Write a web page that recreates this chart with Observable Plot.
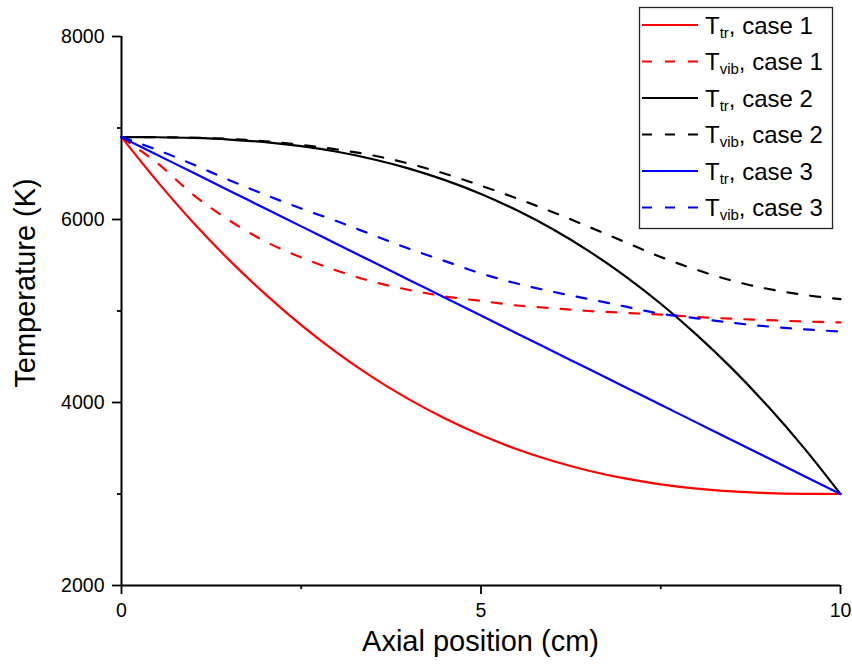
<!DOCTYPE html>
<html><head><meta charset="utf-8">
<script src="https://cdn.jsdelivr.net/npm/d3@7"></script>
<script src="https://cdn.jsdelivr.net/npm/@observablehq/plot@0.6"></script>
<style>body{margin:0;background:#fff}</style>
</head><body><div id="chart"></div>
<script>
// Axial position (cm)
const xs = [0,0.5,1,1.5,2,2.5,3,3.5,4,4.5,5,5.5,6,6.5,7,7.5,8,8.5,9,9.5,10];
// Temperatures (K)
const ttrCase1  = [6900,6414,5965,5556,5184,4846,4543,4272,4034,3825,3644,3489,3360,3254,3170,3106,3059,3028,3010,3002,3000];
const tvibCase1 = [6900,6615,6270,5990,5760,5585,5440,5320,5230,5160,5110,5060,5030,5000,4980,4960,4935,4915,4900,4885,4875];
const ttrCase2  = [6900,6899,6891,6874,6845,6801,6740,6659,6556,6430,6279,6100,5893,5655,5384,5079,4739,4365,3950,3496,3000];
const tvibCase2 = [6900,6900,6893,6880,6855,6815,6765,6700,6610,6500,6370,6230,6080,5920,5755,5590,5450,5330,5240,5175,5130];
const ttrCase3  = [6900,6705,6510,6315,6120,5925,5730,5535,5340,5145,4950,4755,4560,4365,4170,3975,3780,3585,3390,3195,3000];
const tvibCase3 = [6900,6760,6600,6430,6270,6120,5980,5830,5680,5545,5410,5300,5210,5130,5050,4970,4920,4870,4830,4800,4775];

const seriesValues = [ttrCase1, tvibCase1, ttrCase2, tvibCase2, ttrCase3, tvibCase3];
const seriesSub    = ["tr","vib","tr","vib","tr","vib"];
const seriesCase   = ["1","1","2","2","3","3"];
const seriesColor  = ["#ff0000","#ff0000","#000000","#000000","#0000ff","#0000ff"];
const seriesDashed = [false,true,false,true,false,true];

const xDomain = [0, 10];
const yDomain = [2000, 8000];
const xMajor = [0, 5, 10];
const xMinor = [2.5, 7.5];
const yMajor = [2000, 4000, 6000, 8000];
const yMinor = [3000, 5000, 7000];
const xTitle = "Axial position (cm)";
const yTitle = "Temperature (K)";

const font = "'Liberation Sans', Arial, sans-serif";

const lineMarks = seriesValues.map((vals, i) =>
  Plot.line(xs.map((x, j) => ({x, y: vals[j]})), {
    x: "x", y: "y", stroke: seriesColor[i], strokeWidth: 2.2,
    strokeDasharray: seriesDashed[i] ? "10,13" : null,
    curve: "catmull-rom"
  })
);

const chart = Plot.plot({
  width: 852, height: 668,
  marginLeft: 121, marginRight: 12, marginTop: 36, marginBottom: 83,
  x: {domain: xDomain},
  y: {domain: yDomain},
  style: {fontFamily: font, background: "#fff", color: "#000", overflow: "visible"},
  marks: [
    Plot.axisY({ticks: yMajor, tickSize: 9, tickPadding: 8, label: null, fontSize: 19.5, strokeWidth: 1.8, tickFormat: d => String(d)}),
    Plot.axisY({ticks: yMinor, tickSize: 4, label: null, tickFormat: () => "", strokeWidth: 1.8}),
    Plot.axisX({ticks: xMajor, tickSize: 9, tickPadding: 9, label: null, fontSize: 19.5, strokeWidth: 1.8, tickFormat: d => String(d)}),
    Plot.axisX({ticks: xMinor, tickSize: 4, label: null, tickFormat: () => "", strokeWidth: 1.8}),
    Plot.ruleX([xDomain[0]], {strokeWidth: 2}),
    Plot.ruleY([yDomain[0]], {strokeWidth: 2}),
    ...lineMarks
  ]
});
document.getElementById("chart").appendChild(chart);

const svg = d3.select(chart);
// axis titles
svg.append("text").attr("x", 480.5).attr("y", 651).attr("text-anchor", "middle")
  .attr("font-family", font).attr("font-size", 29).attr("fill", "#000").text(xTitle);
svg.append("text").attr("transform", "translate(35,283) rotate(-90)").attr("text-anchor", "middle")
  .attr("font-family", font).attr("font-size", 29).attr("fill", "#000").text(yTitle);

// legend
const lg = svg.append("g").attr("text-anchor", "start");
lg.append("rect").attr("x", 639.5).attr("y", 7.5).attr("width", 193).attr("height", 221)
  .attr("fill", "#fff").attr("stroke", "#222").attr("stroke-width", 1.3);
seriesValues.forEach((_, i) => {
  const cy = 25 + i * 36.5;
  lg.append("line").attr("x1", 642).attr("x2", 698).attr("y1", cy).attr("y2", cy)
    .attr("stroke", seriesColor[i]).attr("stroke-width", 2.2)
    .attr("stroke-dasharray", seriesDashed[i] ? "10,13" : null);
  const t = lg.append("text").attr("x", 705).attr("y", cy + 8.5).attr("text-anchor", "start")
    .attr("font-family", font).attr("font-size", 24).attr("fill", "#000");
  t.append("tspan").text("T");
  t.append("tspan").attr("font-size", 15).attr("dy", 4).text(seriesSub[i]);
  t.append("tspan").attr("dy", -4).text(", case " + seriesCase[i]);
});
</script></body></html>
